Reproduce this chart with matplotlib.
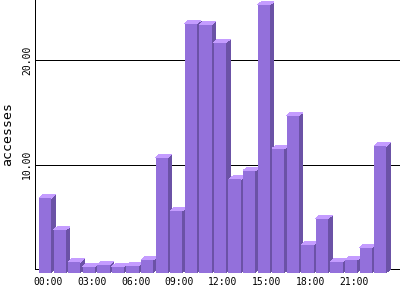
import matplotlib
matplotlib.use('Agg')
import matplotlib.pyplot as plt
from matplotlib.patches import Polygon, Rectangle

# accesses per hour
hours = list(range(24))
accesses = [7.1, 4.07, 1.0, 0.55, 0.72, 0.55, 0.65, 1.2, 11.0, 5.9,
            23.8, 23.7, 22.0, 8.9, 9.74, 25.6, 11.85, 15.0, 2.66, 5.15,
            1.03, 1.2, 2.37, 12.1]
tick_hours = [0, 3, 6, 9, 12, 15, 18, 21]
tick_labels = ['%02d:00' % h for h in tick_hours]
ytick_vals = [10, 20]

front_color = '#9370DB'
side_color = '#6B52A6'
top_color = '#C49CFF'

fig = plt.figure(figsize=(4, 3), dpi=100)
ax = fig.add_axes([35 / 400, 31 / 300, 365 / 400, 269 / 300])

px_x = 14.57    # pixels per bar slot
px_y = 10.45    # pixels per access
xlo = -0.4225 - 4 / px_x
ax.set_xlim(xlo, xlo + 365 / px_x)
ax.set_ylim(0, 269 / px_y)

w = 12.3 / px_x          # front face width
dx = 4 / px_x            # depth to the right
dy = 3.5 / px_y          # depth upwards

for i, v in zip(hours, accesses):
    x0 = i - w / 2
    y0 = -dy
    y1 = v - dy
    side = Polygon([(x0 + w, y0), (x0 + w + dx, y0 + dy), (x0 + w + dx, y1 + dy), (x0 + w, y1)],
                   closed=True, facecolor=side_color, edgecolor='none', zorder=3,
                   clip_on=False, antialiased=False)
    top = Polygon([(x0, y1), (x0 + w, y1), (x0 + w + dx, y1 + dy), (x0 + dx, y1 + dy)],
                  closed=True, facecolor=top_color, edgecolor='none', zorder=3,
                  clip_on=False, antialiased=False)
    front = Rectangle((x0, y0), w, y1 - y0, facecolor=front_color, edgecolor='none',
                      zorder=3, clip_on=False, antialiased=False)
    ax.add_patch(side)
    ax.add_patch(top)
    ax.add_patch(front)

for yv in ytick_vals:
    ax.axhline(yv, color='black', linewidth=0.72, zorder=1, antialiased=False)

for s in ['top', 'right']:
    ax.spines[s].set_visible(False)
for s in ['left', 'bottom']:
    ax.spines[s].set_linewidth(0.72)
    ax.spines[s].set_zorder(2)
    ax.spines[s].set_antialiased(False)

ax.set_xticks([h + 3 / px_x for h in tick_hours])
ax.set_xticklabels(tick_labels, fontfamily='DejaVu Sans Mono', fontsize=7)
ax.set_yticks(ytick_vals)
ax.set_yticklabels(['%.2f' % v for v in ytick_vals], fontfamily='DejaVu Sans Mono',
                   fontsize=7, rotation=90, va='center')
ax.tick_params(axis='x', length=0, pad=6)
ax.tick_params(axis='y', length=0, pad=2)

ax.set_ylabel('accesses', fontfamily='DejaVu Sans Mono', fontsize=9.5)
ax.yaxis.set_label_coords(-0.0575, 0.5)

plt.savefig('out.png', dpi=100)
